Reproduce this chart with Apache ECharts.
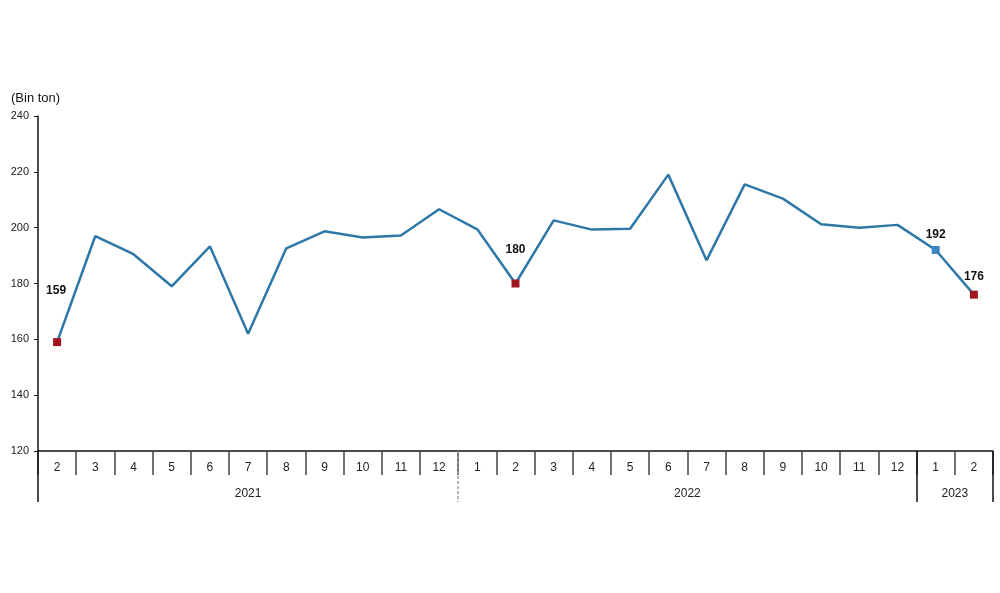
<!DOCTYPE html>
<html>
<head>
<meta charset="utf-8">
<script src="https://cdn.jsdelivr.net/npm/echarts@6/dist/echarts.min.js"></script>
<style>
html, body { margin: 0; padding: 0; background: #fff; }
#chart { width: 1000px; height: 593px; }
</style>
</head>
<body>
<div id="chart"></div>
<script>
// monthly values, Feb 2021 .. Feb 2023 (thousand tonnes)
const months = ['2','3','4','5','6','7','8','9','10','11','12',
                '1','2','3','4','5','6','7','8','9','10','11','12',
                '1','2'];
const values = [159, 197, 190.5, 179, 193.3, 162, 192.6, 198.7, 196.5, 197.2, 206.6,
                199.4, 180, 202.6, 199.3, 199.6, 219, 188.3, 215.5, 210.4, 201.2, 200, 201,
                192, 176];
const years = ['2021', '2022', '2023'];
const monthsPerYear = [11, 12, 2];
const yTicks = [120, 140, 160, 180, 200, 220, 240];
// points that get a marker and a value label
const redPoints = [0, 12, 24];
const bluePoints = [23];

// year row: half-slot positions so labels can sit at the middle of each year span
const yearSlots = [];
const yearBoundaries = [0];
let pos = 0;
for (let i = 0; i <= months.length * 2; i++) yearSlots.push('');
monthsPerYear.forEach((n, i) => {
    yearSlots[pos * 2 + n] = years[i];
    pos += n;
    yearBoundaries.push(pos * 2);
});
const solidBoundaries = yearBoundaries.filter(b => b !== monthsPerYear[0] * 2);
const dashedBoundaries = [monthsPerYear[0] * 2];

const labelDist = { 0: 41, 12: 24, 23: 5, 24: 8 };

const seriesData = values.map((v, i) => {
    const isRed = redPoints.includes(i);
    const isBlue = bluePoints.includes(i);
    if (!isRed && !isBlue) return { value: v, symbol: 'none' };
    return {
        value: v,
        symbol: 'rect',
        symbolSize: 8,
        itemStyle: { color: isRed ? '#A3151F' : '#3C86C2' },
        label: {
            show: true,
            position: 'top',
            distance: labelDist[i],
            offset: i === 0 ? [-1, 0] : [0, 0],
            formatter: p => Math.round(p.value),
            color: '#111',
            fontWeight: 'bold',
            fontSize: 12,
            fontFamily: 'Liberation Sans, Arial, sans-serif'
        }
    };
});

const chart = echarts.init(document.getElementById('chart'));
const font = 'Liberation Sans, Arial, sans-serif';
chart.setOption({
    animation: false,
    title: {
        text: '(Bin ton)',
        left: 6,
        top: 87,
        textStyle: { fontSize: 13, fontWeight: 'normal', color: '#111', fontFamily: font }
    },
    grid: { left: 38, right: 7, top: 116, bottom: 142 },
    xAxis: [
        {
            type: 'category',
            data: months,
            boundaryGap: true,
            position: 'bottom',
            offset: 0,
            axisLine: { show: true, lineStyle: { color: '#111', width: 1.5 } },
            axisTick: { show: true, interval: 0, length: 24, lineStyle: { color: '#444', width: 1.5 } },
            axisLabel: { interval: 0, margin: 11, fontSize: 12, color: '#222', fontFamily: font },
            splitLine: { show: false }
        },
        {
            type: 'category',
            data: yearSlots,
            boundaryGap: false,
            position: 'bottom',
            offset: 0,
            axisLine: { show: false },
            axisTick: {
                show: true,
                length: 51,
                interval: i => solidBoundaries.includes(i),
                lineStyle: { color: '#111', width: 1.5 }
            },
            axisLabel: {
                interval: (i, v) => v !== '',
                margin: 37,
                fontSize: 12,
                color: '#222',
                fontFamily: font
            },
            splitLine: { show: false }
        },
        {
            type: 'category',
            data: yearSlots,
            boundaryGap: false,
            position: 'bottom',
            offset: 0,
            axisLine: { show: false },
            axisTick: {
                show: true,
                length: 51,
                interval: i => dashedBoundaries.includes(i),
                lineStyle: { color: '#999', width: 1.5, type: [3, 2] }
            },
            axisLabel: { show: false },
            splitLine: { show: false }
        }
    ],
    yAxis: {
        type: 'value',
        min: yTicks[0],
        max: yTicks[yTicks.length - 1],
        interval: yTicks[1] - yTicks[0],
        axisLine: { show: true, lineStyle: { color: '#111', width: 1.5 } },
        axisTick: { show: true, length: 4, lineStyle: { color: '#111' } },
        axisLabel: { margin: 9, fontSize: 11, color: '#222', fontFamily: font },
        splitLine: { show: false }
    },
    series: [{
        type: 'line',
        xAxisIndex: 0,
        data: seriesData,
        lineStyle: { color: '#2E78A8', width: 2.5 },
        itemStyle: { color: '#2E78A8' },
        symbol: 'none',
        showSymbol: true,
        z: 3
    }]
});
</script>
</body>
</html>
